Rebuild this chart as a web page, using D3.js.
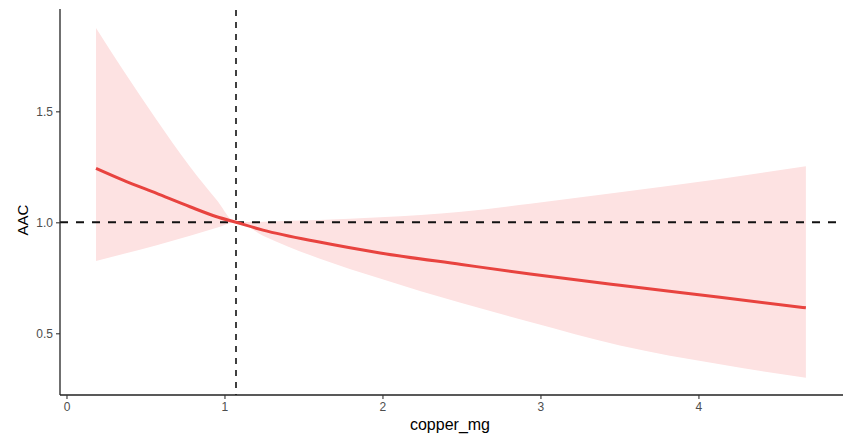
<!DOCTYPE html>
<html>
<head>
<meta charset="utf-8">
<script src="https://cdn.jsdelivr.net/npm/d3@7"></script>
<style>
  body { margin: 0; background: #fff; }
  text { font-family: "Liberation Sans", Arial, sans-serif; }
</style>
</head>
<body>
<script>
'use strict';

// values
var copper = [0.187, 0.358, 0.571, 0.782, 0.951, 1.073, 1.244, 1.6, 1.985, 2.5, 2.935, 3.503, 4.136, 4.68];
var fit    = [1.243, 1.19, 1.13, 1.07, 1.025, 1.0, 0.965, 0.911, 0.862, 0.81, 0.767, 0.716, 0.662, 0.615];
var lower  = [0.826, 0.857, 0.897, 0.94, 0.975, 1.0, 0.94, 0.837, 0.747, 0.636, 0.551, 0.445, 0.36, 0.30];
var upper  = [1.875, 1.686, 1.461, 1.25, 1.10, 1.0, 1.003, 1.01, 1.023, 1.048, 1.084, 1.135, 1.195, 1.253];
var refX = 1.073, refY = 1.0;
var xTicks = [0, 1, 2, 3, 4],
    yTicks = [0.5, 1.0, 1.5];

var width = 843,
    height = 436;

var svg = d3.select("body").append("svg")
    .attr("width", width)
    .attr("height", height);

var x = d3.scaleLinear().domain([-0.041, 4.915]).range([60, 843]);
var y = d3.scaleLinear().domain([0.222, 1.961]).range([395, 9]);

var rows = copper.map(function(c, i) {
  return {x: c, fit: fit[i], lo: lower[i], hi: upper[i]};
});

// ribbon
svg.append("path")
    .datum(rows)
    .attr("fill", "#fde2e2")
    .attr("d", d3.area()
        .curve(d3.curveMonotoneX)
        .x(function(d) { return x(d.x); })
        .y0(function(d) { return y(d.lo); })
        .y1(function(d) { return y(d.hi); }));

// reference lines
svg.append("line")
    .attr("x1", 60).attr("x2", width)
    .attr("y1", y(refY)).attr("y2", y(refY))
    .attr("stroke", "#111")
    .attr("stroke-width", 2)
    .attr("stroke-dasharray", "8,8");

svg.append("line")
    .attr("x1", x(refX)).attr("x2", x(refX))
    .attr("y1", 10).attr("y2", 395)
    .attr("stroke", "#111")
    .attr("stroke-width", 1.6)
    .attr("stroke-dasharray", "6,6");

// fitted line
svg.append("path")
    .datum(rows)
    .attr("fill", "none")
    .attr("stroke", "#e8433f")
    .attr("stroke-width", 3)
    .attr("d", d3.line()
        .curve(d3.curveMonotoneX)
        .x(function(d) { return x(d.x); })
        .y(function(d) { return y(d.fit); }));

// axes
var xAxis = svg.append("g")
    .attr("transform", "translate(0,395)")
    .call(d3.axisBottom(x).tickValues(xTicks).tickFormat(d3.format("d")).tickSize(4).tickSizeOuter(0));
var yAxis = svg.append("g")
    .attr("transform", "translate(60,0)")
    .call(d3.axisLeft(y).tickValues(yTicks).tickFormat(d3.format(".1f")).tickSize(4).tickSizeOuter(0));

[xAxis, yAxis].forEach(function(a) {
  a.select(".domain").attr("stroke", "#222").attr("stroke-width", 1.3);
  a.selectAll(".tick line").attr("stroke", "#333").attr("stroke-width", 1.1);
  a.selectAll(".tick text")
      .attr("fill", "#4d4d4d")
      .style("font-size", "12px")
      .style("font-family", "Liberation Sans, Arial, sans-serif");
});
xAxis.select(".domain").attr("d", "M60,0H" + width);
yAxis.select(".domain").attr("d", "M0,9V395");

svg.append("text")
    .attr("x", 450).attr("y", 430)
    .attr("text-anchor", "middle")
    .style("font-size", "16px")
    .text("copper_mg");

svg.append("text")
    .attr("transform", "translate(28,220) rotate(-90)")
    .attr("text-anchor", "middle")
    .style("font-size", "15px")
    .text("AAC");
</script>
</body>
</html>
